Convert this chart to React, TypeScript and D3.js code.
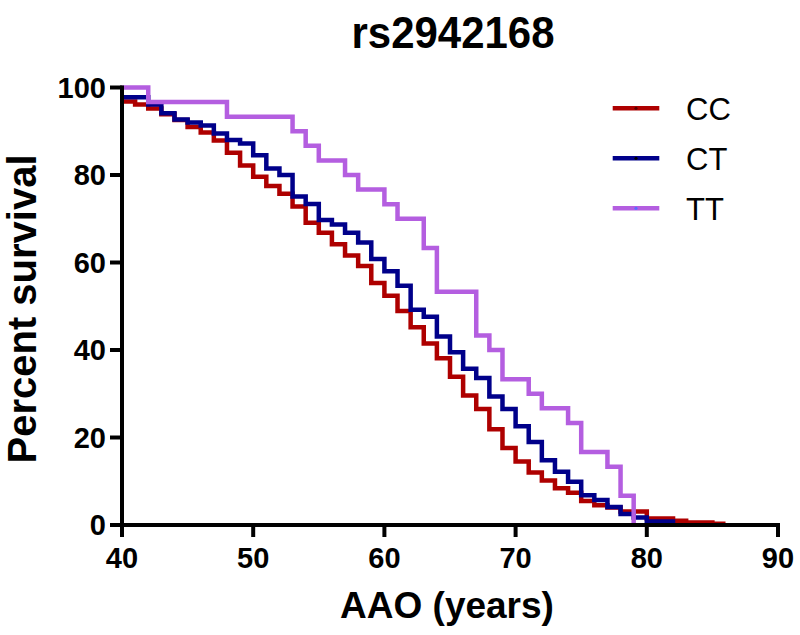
import React from "react";
import * as d3 from "d3";

const title = "rs2942168";
const xLabel = "AAO (years)";
const yLabel = "Percent survival";
const xTicks = [40, 50, 60, 70, 80, 90];
const yTicks = [0, 20, 40, 60, 80, 100];

const seriesNames = ["CC", "CT", "TT"];
const seriesColors = ["#AE0000", "#00008A", "#B45EE0"];
const dotColors = ["#5a0000", "#000000", "#5a6cff"];

// CC (red): age at step, survival (%) after step
const ccAges = [40, 41, 42, 43, 44, 45, 46, 47, 48, 49, 50, 51, 52, 53, 54, 55, 56, 57, 58, 59, 60, 61, 62, 63, 64, 65, 66, 67, 68, 69, 70, 71, 72, 73, 74, 75, 76, 77, 78, 80, 82, 83, 85, 86];
const ccSurv = [96.8, 96.1, 95.2, 93.9, 92.6, 91.0, 89.7, 87.9, 85.1, 82.2, 79.6, 77.5, 75.7, 72.8, 69.1, 66.8, 64.2, 61.6, 59.2, 55.3, 52.4, 48.9, 45.2, 41.5, 38.1, 33.9, 29.6, 26.5, 21.9, 17.6, 14.5, 12.0, 10.2, 8.4, 7.4, 5.5, 4.5, 4.0, 3.1, 1.5, 1.0, 0.6, 0.3, 0.3];

// CT (blue)
const ctAges = [40, 42, 43, 44, 45, 46, 47, 48, 49, 50, 51, 52, 53, 54, 55, 56, 57, 58, 59, 60, 61, 62, 63, 64, 65, 66, 67, 68, 69, 70, 71, 72, 73, 74, 75, 76, 77, 78, 79, 80, 82];
const ctSurv = [97.8, 96.1, 94.1, 92.7, 92.0, 91.3, 89.5, 88.0, 87.2, 84.5, 81.5, 80.0, 75.1, 73.4, 69.7, 68.7, 66.8, 64.6, 60.8, 58.0, 54.7, 49.2, 47.6, 43.1, 39.5, 35.7, 33.6, 29.4, 26.5, 22.6, 19.0, 14.8, 12.2, 9.9, 6.8, 5.7, 4.1, 2.5, 1.7, 0.8, 0];

// TT (purple)
const ttAges = [40, 42, 48, 53, 54, 55, 57, 58, 60, 61, 63, 64, 67, 68, 69, 71, 72, 74, 75, 77, 78, 79];
const ttSurv = [100, 96.67, 93.33, 90, 86.67, 83.33, 80, 76.67, 73.33, 70, 63.33, 53.33, 43.33, 40, 33.33, 30, 26.67, 23.33, 16.67, 13.33, 6.67, 0];

const seriesAges = [ccAges, ctAges, ttAges];
const seriesSurv = [ccSurv, ctSurv, ttSurv];

const W = 800;
const H = 635;
const x = d3.scaleLinear().domain([40, 90]).range([122, 778]);
const y = d3.scaleLinear().domain([0, 100]).range([525, 87.5]);

const FONT = "'Liberation Sans', Arial, Helvetica, sans-serif";

export default function App() {
  const line = d3
    .line<[number, number]>()
    .x((d) => x(d[0]))
    .y((d) => y(d[1]))
    .curve(d3.curveStepAfter);

  const paths = seriesAges.map((ages, i) =>
    line(ages.map((a, j) => [a, seriesSurv[i][j]] as [number, number]))
  );

  const axisW = 4;
  const tickLen = 12;

  return (
    <svg
      width={W}
      height={H}
      style={{ position: "absolute", left: 0, top: 0, background: "#fff" }}
      fontFamily={FONT}
    >
      <rect x={0} y={0} width={W} height={H} fill="#fff" />
      {/* title */}
      <text
        x={453}
        y={48}
        textAnchor="middle"
        fontWeight="bold"
        fontSize={44}
        textLength={203}
        lengthAdjust="spacingAndGlyphs"
      >
        {title}
      </text>

      {/* series */}
      {paths.map((p, i) => (
        <path
          key={seriesNames[i]}
          d={p || ""}
          fill="none"
          stroke={seriesColors[i]}
          strokeWidth={4.5}
          strokeLinejoin="miter"
        />
      ))}

      {/* y axis */}
      <line x1={x(40)} x2={x(40)} y1={y(100) - axisW / 2} y2={y(0)} stroke="#000" strokeWidth={axisW} />
      {yTicks.map((t) => (
        <g key={"y" + t}>
          <line x1={x(40) - tickLen} x2={x(40)} y1={y(t)} y2={y(t)} stroke="#000" strokeWidth={axisW} />
          <text
            x={x(40) - 16}
            y={y(t)}
            dy="0.36em"
            textAnchor="end"
            fontWeight="bold"
            fontSize={29}
          >
            {t}
          </text>
        </g>
      ))}

      {/* x axis */}
      <line x1={x(40) - tickLen} x2={x(90) + axisW / 2} y1={y(0)} y2={y(0)} stroke="#000" strokeWidth={axisW} />
      {xTicks.map((t) => (
        <g key={"x" + t}>
          <line x1={x(t)} x2={x(t)} y1={y(0)} y2={y(0) + tickLen} stroke="#000" strokeWidth={axisW} />
          <text x={x(t)} y={568} textAnchor="middle" fontWeight="bold" fontSize={29}>
            {t}
          </text>
        </g>
      ))}

      {/* axis titles */}
      <text x={447} y={618} textAnchor="middle" fontWeight="bold" fontSize={37}>
        {xLabel}
      </text>
      <text
        transform={`translate(36, 309) rotate(-90)`}
        textAnchor="middle"
        fontWeight="bold"
        fontSize={40}
      >
        {yLabel}
      </text>

      {/* legend */}
      {seriesNames.map((n, i) => {
        const ly = 108.3 + i * 50;
        return (
          <g key={"lg" + n}>
            <line x1={612.7} x2={659.3} y1={ly} y2={ly} stroke={seriesColors[i]} strokeWidth={4.5} />
            <circle cx={636} cy={ly} r={1.6} fill={dotColors[i]} />
            <text x={686} y={ly + 11.5} fontSize={31}>
              {n}
            </text>
          </g>
        );
      })}
    </svg>
  );
}
